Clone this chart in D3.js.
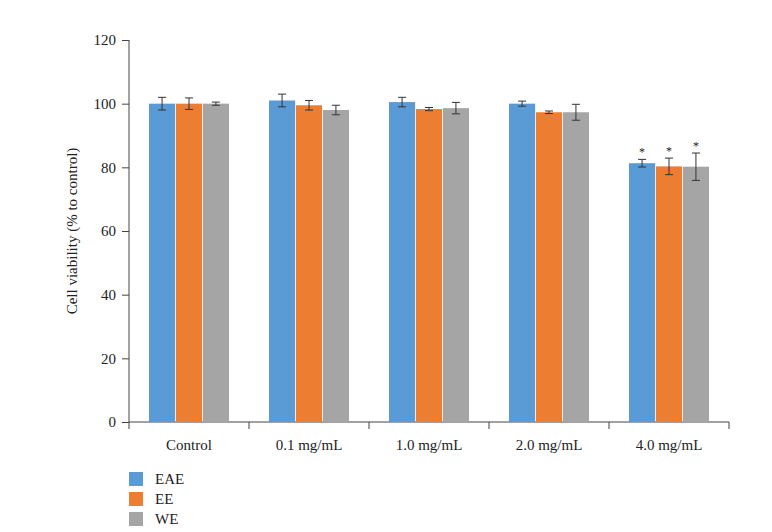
<!DOCTYPE html>
<html><head><meta charset="utf-8">
<script src="https://cdn.jsdelivr.net/npm/d3@7"></script>
<style>body{margin:0;background:#fff}text{font-family:"Liberation Serif",serif;fill:#222}</style>
</head><body><div id="chart"></div>
<script>
const categories = ["Control", "0.1 mg/mL", "1.0 mg/mL", "2.0 mg/mL", "4.0 mg/mL"];
const seriesNames = ["EAE", "EE", "WE"];
const colors = ["#5b9bd5", "#ed7d31", "#a5a5a5"];
const eaeValues = [100, 101, 100.5, 100, 81.3];
const eeValues = [100, 99.5, 98.3, 97.3, 80.3];
const weValues = [100, 98, 98.6, 97.3, 80.2];
const eaeErr = [2, 2, 1.5, 0.8, 1.2];
const eeErr = [1.8, 1.5, 0.5, 0.4, 2.6];
const weErr = [0.5, 1.5, 1.8, 2.5, 4.3];
const significant = [false, false, false, false, true];
const yTicks = [0, 20, 40, 60, 80, 100, 120];

const W = 772, H = 532;
const m = {left: 129, right: 43, top: 40, bottom: 110};
const svg = d3.select("#chart").append("svg").attr("width", W).attr("height", H);
const x = d3.scaleBand().domain(categories).range([m.left, W - m.right]);
const xs = d3.scaleBand().domain(seriesNames).range([20, x.bandwidth() - 20]).paddingInner(0.03);
const y = d3.scaleLinear().domain([0, 120]).range([H - m.bottom, m.top]);

const vals = [eaeValues, eeValues, weValues], errs = [eaeErr, eeErr, weErr];
const rows = [];
categories.forEach((c, i) => seriesNames.forEach((s, j) =>
  rows.push({c, s, j, v: vals[j][i], e: errs[j][i], sig: significant[i]})));

// y axis
const ya = svg.append("g").attr("transform", `translate(${m.left},0)`)
  .call(d3.axisLeft(y).tickValues(yTicks).tickSize(7).tickPadding(6));
// x axis
const xa = svg.append("g").attr("transform", `translate(0,${y(0)})`)
  .call(d3.axisBottom(x).tickSize(0).tickPadding(17));
xa.select(".domain").attr("d", `M${m.left},0H${W - m.right}`);
svg.append("g").selectAll("line").data(d3.range(categories.length + 1)).join("line")
  .attr("x1", i => m.left + i * x.step()).attr("x2", i => m.left + i * x.step())
  .attr("y1", y(0)).attr("y2", y(0) + 7).attr("stroke", "#444");
[ya, xa].forEach(a => { a.selectAll("path,line").attr("stroke", "#444"); a.selectAll("text").style("font-size", "15px").attr("fill", "#222"); });
ya.select(".domain").attr("d", `M0,${y(120)}V${y(0)}`);

const bars = svg.append("g").selectAll("g").data(rows).join("g")
  .attr("transform", d => `translate(${x(d.c) + xs(d.s)},0)`);
bars.append("rect").attr("y", d => y(d.v)).attr("width", xs.bandwidth())
  .attr("height", d => y(0) - y(d.v)).attr("fill", d => colors[d.j]);
const cx = xs.bandwidth() / 2;
bars.append("path").attr("stroke", "#333").attr("fill", "none")
  .attr("d", d => `M${cx},${y(d.v + d.e)}V${y(d.v - d.e)}M${cx - 4},${y(d.v + d.e)}h8M${cx - 4},${y(d.v - d.e)}h8`);
bars.filter(d => d.sig).append("text").attr("x", cx).attr("y", d => y(d.v + d.e) - 3)
  .attr("text-anchor", "middle").style("font-size", "12px").text("*");

svg.append("text").attr("transform", `translate(77,${(y(0) + y(120)) / 2}) rotate(-90)`)
  .attr("text-anchor", "middle").style("font-size", "15px").text("Cell viability (% to control)");

const lg = svg.append("g").selectAll("g").data(seriesNames).join("g")
  .attr("transform", (d, i) => `translate(129,${472 + i * 20})`);
lg.append("rect").attr("width", 14).attr("height", 14).attr("fill", (d, i) => colors[i]);
lg.append("text").attr("x", 26).attr("y", 12).style("font-size", "15px").text(d => d);
</script></body></html>
